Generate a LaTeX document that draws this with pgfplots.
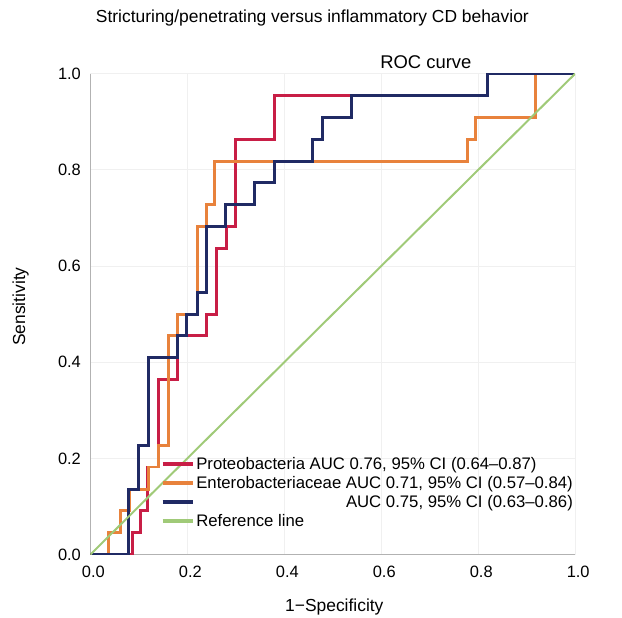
\documentclass[border=0pt]{standalone}
\usepackage{fontspec}
\setmainfont{Liberation Sans}
\usepackage{pgfplots}
\pgfplotsset{compat=1.18}
\definecolor{cred}{RGB}{200,30,70}
\definecolor{corange}{RGB}{232,130,60}
\definecolor{cnavy}{RGB}{32,42,100}
\definecolor{cgreen}{RGB}{160,202,120}
\newlength{\legw}
\begin{document}
\settowidth{\legw}{\fontsize{16.8}{19}\selectfont Enterobacteriaceae AUC 0.71, 95\% CI (0.57–0.84)}
\begin{tikzpicture}
\useasboundingbox (0,0) rectangle (622pt,620pt);
\begin{axis}[
  at={(88pt,63pt)}, anchor=south west,
  width=487pt, height=483pt, scale only axis,
  xmin=0, xmax=1, ymin=0, ymax=1,
  axis lines*=left,
  axis line style={color=black!30, line width=1.5pt},
  xtick={0,0.2,0.4,0.6,0.8,1.0},
  ytick={0,0.2,0.4,0.6,0.8,1.0},
  major tick length=0pt,
  grid=major,
  grid style={color=black!6, line width=1pt},
  /pgf/number format/assume math mode=true,
  /pgf/number format/.cd, fixed, fixed zerofill, precision=1, /pgfplots/.cd,
  tick label style={font=\fontsize{16.5}{19}\selectfont},
  xticklabel style={yshift=-8pt, xshift=3pt},
  yticklabel style={xshift=-6pt},
  legend style={at={(axis cs:0.145,0.207)}, anchor=north west, draw=none, fill=none,
    font=\fontsize{16.8}{19}\selectfont, inner sep=0pt, row sep=1.5pt,
    /tikz/every even column/.append style={column sep=4pt}},
  legend cell align=left,
  legend image code/.code={\draw[#1, line width=3.6pt] (0pt,0pt) -- (30pt,0pt);},
]
\addplot[cred, line width=3pt] coordinates {
(0,0) (0.086,0) (0.086,0.045) (0.103,0.045) (0.103,0.091) (0.117,0.091) (0.117,0.182)
(0.14,0.182) (0.14,0.364) (0.18,0.364) (0.18,0.455) (0.24,0.455) (0.24,0.5) (0.26,0.5)
(0.26,0.636) (0.28,0.636) (0.28,0.682) (0.30,0.682) (0.30,0.864) (0.38,0.864) (0.38,0.955)
(0.82,0.955) (0.82,1) (1,1)};
\addlegendentry{Proteobacteria AUC 0.76, 95\% CI (0.64–0.87)}
\addplot[corange, line width=3pt] coordinates {
(0,0) (0.038,0) (0.038,0.045) (0.062,0.045) (0.062,0.091) (0.08,0.091) (0.08,0.136)
(0.12,0.136) (0.12,0.182) (0.14,0.182) (0.14,0.227) (0.162,0.227) (0.162,0.455) (0.18,0.455)
(0.18,0.5) (0.22,0.5) (0.22,0.682) (0.24,0.682) (0.24,0.727) (0.257,0.727) (0.257,0.818)
(0.778,0.818) (0.778,0.864) (0.795,0.864) (0.795,0.909) (0.918,0.909) (0.918,1) (1,1)};
\addlegendentry{Enterobacteriaceae AUC 0.71, 95\% CI (0.57–0.84)}
\addplot[cnavy, line width=3pt] coordinates {
(0,0) (0.079,0) (0.079,0.136) (0.10,0.136) (0.10,0.227) (0.12,0.227) (0.12,0.409)
(0.179,0.409) (0.179,0.455) (0.199,0.455) (0.199,0.5) (0.22,0.5) (0.22,0.545) (0.24,0.545)
(0.24,0.682) (0.278,0.682) (0.278,0.727) (0.339,0.727) (0.339,0.773) (0.38,0.773) (0.38,0.818)
(0.459,0.818) (0.459,0.864) (0.478,0.864) (0.478,0.909) (0.538,0.909) (0.538,0.955)
(0.819,0.955) (0.819,1) (1,1)};
\addlegendentry{\makebox[\legw][r]{AUC 0.75, 95\% CI (0.63–0.86)}}
\addplot[cgreen, line width=2pt] coordinates {(0,0) (1,1)};
\addlegendentry{Reference line}
\end{axis}
\node[font=\fontsize{17.5}{20}\selectfont] at (311pt,602pt) {Stricturing/penetrating versus inflammatory CD behavior};
\node[font=\fontsize{18.5}{20}\selectfont] at (425pt,558pt) {ROC curve};
\node[font=\fontsize{17.5}{20}\selectfont, rotate=90] at (18pt,312pt) {Sensitivity};
\node[font=\fontsize{17.5}{20}\selectfont] at (333pt,10pt) {1−Specificity};
\end{tikzpicture}
\end{document}
